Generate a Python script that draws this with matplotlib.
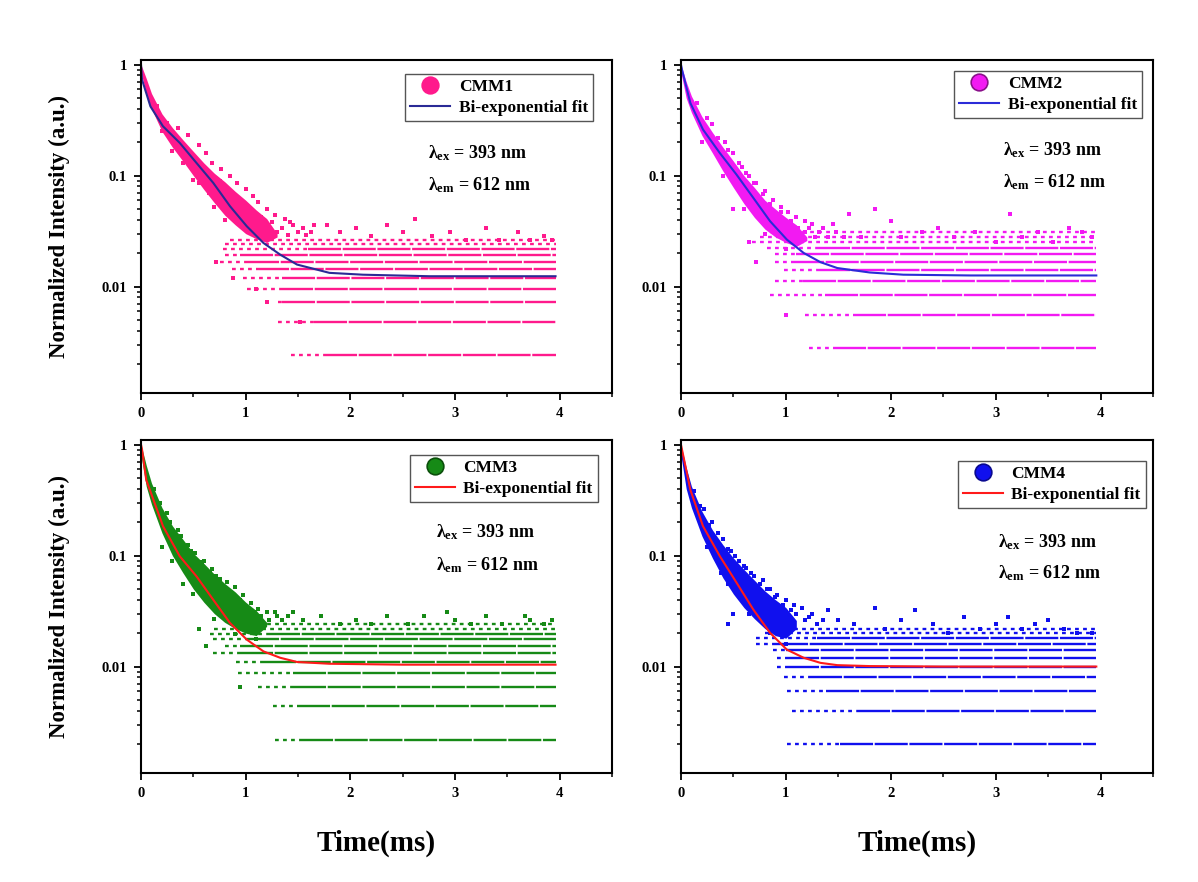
import matplotlib
matplotlib.use("Agg")
import matplotlib.pyplot as plt
from matplotlib.lines import Line2D

plt.rcParams['font.family'] = 'Liberation Serif'
plt.rcParams['font.weight'] = 'bold'
plt.rcParams['mathtext.fontset'] = 'custom'
plt.rcParams['mathtext.rm'] = 'Liberation Serif:bold'
plt.rcParams['mathtext.bf'] = 'Liberation Serif:bold'
plt.rcParams['mathtext.it'] = 'Liberation Serif:bold'

names = ["CMM1", "CMM2", "CMM3", "CMM4"]
pt_colors = ["#FF1A8C", "#F21AF2", "#168A16", "#1010EE"]
pt_edges = ["#FF1A8C", "#8A108A", "#0B4F0B", "#0A0A90"]
fit_colors = ["#2A2A96", "#2B2BD8", "#FF1A1A", "#FF1A1A"]

# bi-exponential fit curves
cmm1_fit_t = [0.0, 0.01, 0.09, 0.21, 0.37, 0.53, 0.69, 0.85, 1.01, 1.17, 1.33, 1.49, 1.80, 2.12, 2.76, 3.96]
cmm1_fit_y = [1.0, 0.73, 0.42, 0.278, 0.197, 0.13, 0.086, 0.053, 0.035, 0.0247, 0.0194, 0.0158, 0.0133, 0.0128, 0.0124, 0.0124]
cmm2_fit_t = [0.0, 0.01, 0.09, 0.21, 0.37, 0.53, 0.69, 0.85, 1.01, 1.17, 1.33, 1.49, 1.80, 2.12, 2.76, 3.96]
cmm2_fit_y = [1.0, 0.90, 0.45, 0.26, 0.16, 0.102, 0.063, 0.0388, 0.0265, 0.0201, 0.0166, 0.0147, 0.0134, 0.0128, 0.0126, 0.0126]
cmm3_fit_t = [0.0, 0.01, 0.05, 0.21, 0.37, 0.53, 0.69, 0.85, 1.01, 1.17, 1.33, 1.49, 1.80, 2.50, 3.96]
cmm3_fit_y = [1.0, 0.90, 0.48, 0.184, 0.0986, 0.065, 0.040, 0.0247, 0.0175, 0.0137, 0.012, 0.011, 0.0106, 0.0104, 0.0104]
cmm4_fit_t = [0.0, 0.01, 0.09, 0.21, 0.37, 0.53, 0.69, 0.85, 1.01, 1.17, 1.33, 1.49, 1.80, 2.50, 3.96]
cmm4_fit_y = [1.0, 0.90, 0.39, 0.184, 0.099, 0.057, 0.0326, 0.0201, 0.0142, 0.012, 0.0108, 0.0103, 0.0101, 0.0100, 0.0100]

# dense part of the measured decay (lower / upper edge of the point cloud)
cmm1_band_t = [0.0, 0.05, 0.1, 0.2, 0.3, 0.4, 0.5, 0.6, 0.7, 0.8, 0.9, 1.0, 1.1, 1.2, 1.3]
cmm1_band_hi = [1.0, 0.75, 0.55, 0.36, 0.27, 0.21, 0.165, 0.13, 0.105, 0.088, 0.072, 0.06, 0.049, 0.041, 0.03]
cmm1_band_lo = [0.85, 0.55, 0.40, 0.25, 0.18, 0.135, 0.10, 0.075, 0.057, 0.044, 0.036, 0.03, 0.027, 0.025, 0.028]
cmm2_band_t = [0.0, 0.05, 0.1, 0.2, 0.3, 0.4, 0.5, 0.6, 0.7, 0.8, 0.9, 1.0, 1.1, 1.2]
cmm2_band_hi = [1.0, 0.7, 0.52, 0.34, 0.245, 0.18, 0.135, 0.1, 0.078, 0.06, 0.05, 0.042, 0.036, 0.028]
cmm2_band_lo = [0.85, 0.5, 0.37, 0.23, 0.16, 0.11, 0.078, 0.056, 0.042, 0.033, 0.028, 0.025, 0.023, 0.026]
cmm3_band_t = [0.0, 0.05, 0.1, 0.2, 0.3, 0.4, 0.5, 0.6, 0.7, 0.8, 0.9, 1.0, 1.1, 1.2]
cmm3_band_hi = [1.0, 0.65, 0.45, 0.27, 0.185, 0.14, 0.105, 0.085, 0.068, 0.056, 0.047, 0.038, 0.032, 0.025]
cmm3_band_lo = [0.8, 0.42, 0.29, 0.16, 0.10, 0.07, 0.05, 0.038, 0.03, 0.025, 0.022, 0.02, 0.019, 0.023]
cmm4_band_t = [0.0, 0.05, 0.1, 0.2, 0.3, 0.4, 0.5, 0.6, 0.7, 0.8, 0.9, 1.0, 1.1]
cmm4_band_hi = [1.0, 0.62, 0.42, 0.25, 0.17, 0.125, 0.095, 0.075, 0.06, 0.048, 0.04, 0.034, 0.026]
cmm4_band_lo = [0.8, 0.40, 0.27, 0.15, 0.095, 0.063, 0.045, 0.034, 0.027, 0.022, 0.019, 0.018, 0.022]

# quantised noise floor: level of one count, rows (count, first point, start of dense run)
quanta = [0.0024, 0.0028, 0.0022, 0.0020]
cmm1_rows_k = [1, 2, 3, 4, 5, 6, 7, 8, 9, 10, 11]
cmm1_rows_start = [1.43, 1.31, 1.31, 1.01, 0.97, 0.87, 0.75, 0.80, 0.78, 0.80, 0.85]
cmm1_rows_dense = [1.75, 1.65, 1.35, 1.33, 1.35, 1.10, 1.00, 0.95, 1.60, 4.0, 4.0]
cmm2_rows_k = [1, 2, 3, 4, 5, 6, 7, 8, 9, 10, 11]
cmm2_rows_start = [1.22, 1.18, 0.85, 0.90, 0.98, 0.90, 0.90, 0.82, 0.68, 0.75, 0.85]
cmm2_rows_dense = [1.45, 1.64, 1.37, 1.16, 1.30, 1.05, 1.10, 1.30, 4.0, 4.0, 4.0]
cmm3_rows_k = [1, 2, 3, 4, 5, 6, 7, 8, 9, 10, 11]
cmm3_rows_start = [1.28, 1.26, 1.12, 0.93, 0.91, 0.69, 0.80, 0.69, 0.66, 0.70, 0.90]
cmm3_rows_dense = [1.52, 1.49, 1.45, 1.45, 1.17, 0.95, 0.95, 1.00, 1.20, 4.0, 4.0]
cmm4_rows_k = [1, 2, 3, 4, 5, 6, 7, 8, 9, 10, 11]
cmm4_rows_start = [1.01, 1.06, 1.01, 0.98, 0.92, 0.92, 0.88, 0.72, 0.72, 0.80, 0.85]
cmm4_rows_dense = [1.52, 1.68, 1.38, 1.22, 1.00, 1.00, 1.00, 0.90, 1.30, 4.0, 4.0]
row_end = 3.96

# isolated points outside the dense cloud
cmm1_pts_t = [0.35, 0.45, 0.55, 0.62, 0.68, 0.76, 0.85, 0.92, 1.0, 1.07, 1.12, 1.2, 1.28, 1.38, 1.45, 1.55,
              1.62, 1.78, 1.9, 2.05, 2.2, 2.35, 2.5, 2.62, 2.78, 2.95, 3.1, 3.3, 3.42, 3.6, 3.72, 3.85,
              3.93, 0.72, 0.88, 1.1, 1.2, 1.52, 0.3, 0.5, 0.7,
              1.0, 1.05, 1.1, 1.15, 1.2, 1.25, 1.3, 1.35, 1.4, 1.42, 1.5, 1.58, 1.65, 0.95, 0.9, 0.8,
              0.75, 0.6, 0.45, 0.25, 0.15, 0.2, 0.4, 0.55, 0.65, 0.8]
cmm1_pts_y = [0.27, 0.23, 0.19, 0.16, 0.13, 0.115, 0.1, 0.085, 0.075, 0.065, 0.058, 0.05, 0.044, 0.0408, 0.036, 0.0336,
              0.0312, 0.036, 0.0312, 0.0336, 0.0288, 0.036, 0.0312, 0.0408, 0.0288, 0.0312, 0.0264, 0.0336, 0.0264, 0.0312, 0.0264, 0.0288,
              0.0264, 0.0168, 0.012, 0.0096, 0.0072, 0.0048, 0.165, 0.092, 0.052,
              0.045, 0.04, 0.036, 0.042, 0.034, 0.038, 0.031, 0.034, 0.029, 0.038, 0.031, 0.029, 0.036, 0.05, 0.062, 0.075,
              0.09, 0.11, 0.17, 0.3, 0.42, 0.25, 0.13, 0.085, 0.07, 0.04]
cmm2_pts_t = [0.3, 0.42, 0.5, 0.58, 0.65, 0.72, 0.8, 0.88, 0.95, 1.02, 1.1, 1.18, 1.25, 1.35, 1.48, 1.6,
              1.72, 1.85, 2.0, 2.1, 2.3, 2.45, 2.6, 2.8, 3.0, 3.14, 3.25, 3.4, 3.55, 3.7, 3.82, 3.92,
              0.5, 0.65, 0.72, 1.0,
              0.15, 0.25, 0.35, 0.45, 0.55, 0.62, 0.7, 0.78, 0.85, 0.95, 1.05, 1.12, 1.18, 1.22, 1.28, 1.32,
              1.4, 1.45, 1.55, 0.2, 0.4, 0.6, 0.8, 1.0]
cmm2_pts_y = [0.29, 0.2, 0.16, 0.12, 0.1, 0.085, 0.072, 0.06, 0.052, 0.047, 0.042, 0.0392, 0.0364, 0.0336, 0.0308, 0.0448,
              0.028, 0.0504, 0.0392, 0.028, 0.0308, 0.0336, 0.028, 0.0308, 0.0252, 0.0448, 0.028, 0.0308, 0.0252, 0.0336, 0.0308, 0.028,
              0.05, 0.0252, 0.0168, 0.0056,
              0.45, 0.33, 0.22, 0.17, 0.13, 0.105, 0.085, 0.068, 0.056, 0.047, 0.039, 0.034, 0.031, 0.0336, 0.028, 0.0308,
              0.028, 0.0364, 0.028, 0.2, 0.1, 0.05, 0.03, 0.022]
cmm3_pts_t = [0.25, 0.35, 0.45, 0.52, 0.6, 0.68, 0.75, 0.82, 0.9, 0.97, 1.05, 1.12, 1.2, 1.3, 1.45, 1.55,
              1.72, 1.9, 2.05, 2.2, 2.35, 2.55, 2.7, 2.92, 3.0, 3.15, 3.3, 3.45, 3.67, 3.72, 3.85, 3.93,
              0.55, 0.62, 0.95, 0.2, 0.4,
              0.12, 0.18, 0.28, 0.38, 0.48, 0.58, 0.66, 0.72, 0.8, 0.88, 0.95, 1.02, 1.08, 1.15, 1.22, 1.28,
              1.35, 1.4, 0.3, 0.5, 0.7, 0.9, 1.1]
cmm3_pts_y = [0.24, 0.17, 0.125, 0.105, 0.09, 0.075, 0.062, 0.058, 0.052, 0.044, 0.037, 0.033, 0.0308, 0.0286, 0.0308, 0.0264,
              0.0286, 0.0242, 0.0264, 0.0242, 0.0286, 0.0242, 0.0286, 0.0308, 0.0264, 0.0242, 0.0286, 0.0242, 0.0286, 0.0264, 0.0242, 0.0264,
              0.022, 0.0154, 0.0066, 0.12, 0.055,
              0.4, 0.3, 0.2, 0.15, 0.11, 0.088, 0.07, 0.066, 0.05, 0.044, 0.04, 0.033, 0.0308, 0.0286, 0.0264, 0.0308,
              0.0264, 0.0286, 0.09, 0.045, 0.027, 0.0198, 0.0176]
cmm4_pts_t = [0.22, 0.3, 0.4, 0.48, 0.55, 0.62, 0.7, 0.78, 0.85, 0.92, 1.0, 1.08, 1.15, 1.25, 1.4, 1.5,
              1.65, 1.85, 1.95, 2.1, 2.23, 2.4, 2.55, 2.7, 2.85, 3.0, 3.12, 3.25, 3.38, 3.5, 3.65, 3.78,
              3.92, 0.5, 0.45, 0.38,
              0.12, 0.18, 0.27, 0.35, 0.45, 0.52, 0.6, 0.67, 0.75, 0.82, 0.9, 0.97, 1.05, 1.1, 1.18, 1.22,
              1.3, 1.35, 0.25, 0.45, 0.65, 0.85, 1.0]
cmm4_pts_y = [0.26, 0.2, 0.14, 0.11, 0.09, 0.078, 0.066, 0.06, 0.05, 0.044, 0.04, 0.036, 0.034, 0.03, 0.032, 0.026,
              0.024, 0.034, 0.022, 0.026, 0.032, 0.024, 0.02, 0.028, 0.022, 0.024, 0.028, 0.022, 0.024, 0.026, 0.022, 0.02,
              0.02, 0.03, 0.024, 0.07,
              0.38, 0.28, 0.19, 0.16, 0.115, 0.1, 0.08, 0.07, 0.055, 0.05, 0.042, 0.036, 0.032, 0.03, 0.026, 0.028,
              0.024, 0.026, 0.12, 0.055, 0.03, 0.02, 0.016]

fits = [(cmm1_fit_t, cmm1_fit_y), (cmm2_fit_t, cmm2_fit_y), (cmm3_fit_t, cmm3_fit_y), (cmm4_fit_t, cmm4_fit_y)]
bands = [(cmm1_band_t, cmm1_band_lo, cmm1_band_hi), (cmm2_band_t, cmm2_band_lo, cmm2_band_hi),
         (cmm3_band_t, cmm3_band_lo, cmm3_band_hi), (cmm4_band_t, cmm4_band_lo, cmm4_band_hi)]
rows = [(cmm1_rows_k, cmm1_rows_start, cmm1_rows_dense), (cmm2_rows_k, cmm2_rows_start, cmm2_rows_dense),
        (cmm3_rows_k, cmm3_rows_start, cmm3_rows_dense), (cmm4_rows_k, cmm4_rows_start, cmm4_rows_dense)]
pts = [(cmm1_pts_t, cmm1_pts_y), (cmm2_pts_t, cmm2_pts_y), (cmm3_pts_t, cmm3_pts_y), (cmm4_pts_t, cmm4_pts_y)]

# layout (figure fractions) and placement of legend / wavelength text
axes_pos = [[0.1177, 0.5544, 0.3932, 0.3776], [0.5684, 0.5544, 0.3940, 0.3776],
            [0.1177, 0.1236, 0.3932, 0.3776], [0.5684, 0.1236, 0.3940, 0.3776]]
leg_anchor = [(0.960, 0.958), (0.977, 0.967), (0.970, 0.955), (0.985, 0.937)]
txt_pos = [(0.609, 0.721, 0.625), (0.682, 0.730, 0.634), (0.626, 0.724, 0.625), (0.672, 0.694, 0.601)]

fig = plt.figure(figsize=(11.98, 8.82), dpi=100)

for i in range(4):
    ax = fig.add_axes(axes_pos[i])
    c = pt_colors[i]

    bt, blo, bhi = bands[i]
    ax.fill_between(bt, blo, bhi, color=c, linewidth=0)

    ks, st, dn = rows[i]
    for k, s, d in zip(ks, st, dn):
        lev = k * quanta[i]
        ax.hlines(lev, s, min(d, row_end), colors=c, linewidth=1.7, linestyles=(0, (1.6, 1.8)))
        if d < row_end:
            ax.hlines(lev, d, row_end, colors=c, linewidth=1.7, linestyles=(0, (14, 0.7)))

    ax.plot(pts[i][0], pts[i][1], 's', color=c, ms=2.2, mew=0)
    ax.plot(fits[i][0], fits[i][1], '-', color=fit_colors[i], lw=1.5)

    ax.set_yscale('log')
    ax.set_ylim(0.0011, 1.1)
    ax.set_xlim(0, 4.5)
    ax.set_yticks([0.01, 0.1, 1])
    ax.set_yticklabels(['0.01', '0.1', '1'])
    ax.set_xticks([0, 1, 2, 3, 4])
    ax.set_xticks([0.5, 1.5, 2.5, 3.5, 4.5], minor=True)
    ax.tick_params(which='major', direction='out', length=5, width=1.3, labelsize=10.5, pad=5)
    ax.tick_params(which='minor', direction='out', length=3, width=1.1)
    for lab in ax.get_xticklabels() + ax.get_yticklabels():
        lab.set_fontweight('bold')
    for sp in ax.spines.values():
        sp.set_linewidth(1.5)

    handles = [Line2D([], [], marker='o', ls='none', ms=12, mfc=c, mec=pt_edges[i], mew=1.2),
               Line2D([], [], color=fit_colors[i], lw=1.5)]
    ax.legend(handles, [names[i], 'Bi-exponential fit'], loc='upper right', bbox_to_anchor=leg_anchor[i],
              borderaxespad=0, fancybox=False, framealpha=1, edgecolor='#555555',
              prop={'family': 'Liberation Serif', 'weight': 'bold', 'size': 12.5},
              handlelength=2.3, handletextpad=0.5, labelspacing=0.25, borderpad=0.3)

    tx, ty1, ty2 = txt_pos[i]
    ax.text(tx, ty1, r'$\mathrm{\lambda_{ex}}$ = 393 nm', transform=ax.transAxes, fontsize=13,
            fontweight='bold', va='center')
    ax.text(tx, ty2, r'$\mathrm{\lambda_{em}}$ = 612 nm', transform=ax.transAxes, fontsize=13,
            fontweight='bold', va='center')

    if i % 2 == 0:
        ax.set_ylabel('Normalized Intensity (a.u.)', fontsize=16.5, fontweight='bold')
        ax.yaxis.set_label_coords(-0.151, 0.5)
    if i >= 2:
        ax.set_xlabel('Time(ms)', fontsize=21, fontweight='bold')
        ax.xaxis.set_label_coords(0.5, -0.17)

fig.savefig('out.png', dpi=100)
